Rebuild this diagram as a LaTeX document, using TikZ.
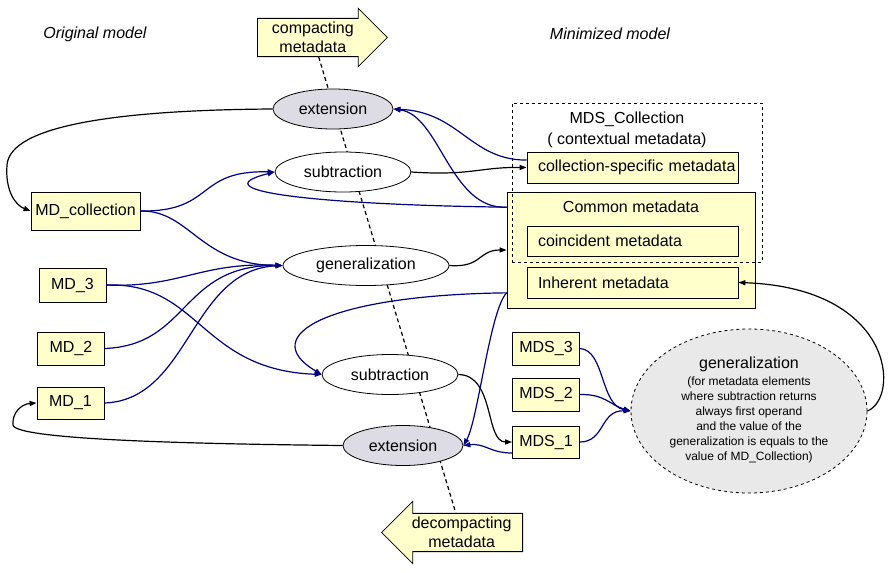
\documentclass[tikz,border=0pt]{standalone}
\usepackage{fontspec}
\setmainfont{Liberation Sans}
\usepackage{tikz}
\usetikzlibrary{shapes.geometric, shapes.arrows, arrows.meta, backgrounds}
\usepackage{xcolor}
\definecolor{mdyellow}{RGB}{255,255,204}
\definecolor{opgray}{RGB}{221,219,228}
\definecolor{gengray}{RGB}{233,233,233}
\definecolor{mdnavy}{RGB}{0,0,128}

\begin{document}
\begin{tikzpicture}[x=1pt, y=-1pt, >={Stealth[inset=0pt,length=7pt,angle'=40]},
                    font=\fontsize{16}{19}\selectfont,
                    mdbox/.style={draw, fill=mdyellow, line width=0.8pt, inner sep=0pt, minimum width=67pt, minimum height=33pt},
                    inbox/.style={draw, fill=mdyellow, line width=0.8pt, minimum width=211pt, minimum height=31pt, text width=189pt, inner xsep=11pt, inner ysep=0pt, align=left},
                    op/.style={draw, ellipse, fill=white, line width=0.8pt, inner sep=0pt, minimum height=40pt},
                    flow/.style={single arrow, draw, fill=mdyellow, line width=0.8pt, align=center, single arrow head extend=10pt},
                    axis/.style={line width=1.2pt, dash pattern=on 4pt off 3pt},
                    blk/.style={->, line width=1.2pt},
                    blu/.style={->, draw=mdnavy, line width=1.2pt}]

    \useasboundingbox (0,0) rectangle (889,573);

    \node[font=\fontsize{16}{19}\selectfont\itshape] (orig) at (95,34) {Original model};
    \node[font=\fontsize{16}{19}\selectfont\itshape] (mini) at (610,34) {Minimized model};

    \node[flow, anchor=tail, minimum height=130pt] (cmp) at (257,37.5) {compacting\\metadata};
    \node[flow, shape border rotate=180, anchor=tail, minimum height=141pt,
          single arrow head extend=12pt] (dcmp) at (523,532.5) {decompacting\\metadata};

    \node[op, fill=opgray, minimum width=120pt] (ext1) at (333,109) {extension};
    \node[op, minimum width=136pt] (sub1) at (343,172) {subtraction};
    \node[op, minimum width=166pt] (gen1) at (366,265.5) {generalization};
    \node[op, minimum width=136pt] (sub2) at (390,374.5) {subtraction};
    \node[op, fill=opgray, minimum width=120pt] (ext2) at (403,445.5) {extension};

    \node[mdbox, minimum width=109pt, minimum height=38pt] (mdc) at (85.5,211) {MD\_collection};
    \node[mdbox, minimum height=34pt] (md3) at (72.5,285) {MD\_3};
    \node[mdbox] (md2) at (71,348.5) {MD\_2};
    \node[mdbox, minimum height=32pt] (md1) at (70.5,403) {MD\_1};

    \node[mdbox] (mds3) at (546,348.5) {MDS\_3};
    \node[mdbox] (mds2) at (546,394.5) {MDS\_2};
    \node[mdbox, minimum height=32pt] (mds1) at (546,442) {MDS\_1};

    % minimized metadata
    \node[draw, fill=mdyellow, line width=0.8pt, minimum width=248pt, minimum height=116pt] (comm) at (631,250) {};
    \node (commtitle) at (631,207) {Common metadata};
    \node[inbox] (csp) at (632.5,167.5) {\mbox{collection-specific metadata}};
    \node[inbox, minimum height=30pt] (coin) at (632.5,241) {coincident metadata};
    \node[inbox] (inh) at (632.5,282.5) {Inherent metadata};
    \node[draw, dashed, line width=0.8pt, minimum width=250pt, minimum height=159pt] (colbox) at (637,182.5) {};
    \node[align=center] (coltitle) at (627,129.5) {MDS\_Collection\\[2pt]( contextual metadata)};

    \node[draw, dashed, ellipse, fill=gengray, line width=0.8pt, minimum width=236pt, minimum height=164pt,
          inner sep=0pt, align=center] (gen2) at (749,411)
          {generalization\\[-2pt]{\fontsize{12}{15}\selectfont\begin{tabular}[t]{@{}c@{}}(for metadata elements\\
           where subtraction returns\\ always first operand\\ and the value of the\\
           generalization is equals to the\\ value of MD\_Collection)\end{tabular}}};

    \begin{scope}[on background layer]
        \draw[axis] (cmp) -- (dcmp);
    \end{scope}

    % black connectors
    \draw[blk] (ext1.west) .. controls (120,110) and (10,125) .. (7,165) .. controls (5,190) and (15,205) .. (mdc.west);
    \draw[blk] (sub1.east) .. controls (470,176) and (480,167) .. (csp.west);
    \draw[blk] (gen1.east) .. controls (482,268) and (478,250) .. (comm.west);
    \draw[blk] (sub2.east) .. controls (495,375) and (485,442) .. (mds1.west);
    \draw[blk] (gen2.east) .. controls (900,398) and (895,288) .. (inh.east);
    \draw[blk] (ext2.west) .. controls (200,444) and (15,440) .. (13,425) .. controls (12,412) and (22,404) .. (md1.west);

    % blue connectors
    \draw[blu] (csp.176) .. controls (470,160) and (460,112) .. (ext1.east);
    \draw[blu] (comm.161) .. controls (450,210) and (440,115) .. (ext1.east);
    \draw[blu] (comm.161) .. controls (330,205) and (195,192) .. (sub1.west);
    \draw[blu] (mdc.east) .. controls (215,212) and (195,170) .. (sub1.west);
    \draw[blu] (mdc.east) .. controls (190,210) and (200,265) .. (gen1.west);
    \draw[blu] (md3.east) .. controls (180,288) and (200,262) .. (gen1.west);
    \draw[blu] (md3.east) .. controls (200,282) and (200,370) .. (sub2.west);
    \draw[blu] (md2.east) .. controls (190,345) and (180,265) .. (gen1.west);
    \draw[blu] (md1.east) .. controls (190,400) and (190,270) .. (gen1.west);
    \draw[blu] (comm.199) .. controls (330,295) and (255,335) .. (sub2.west);
    \draw[blu] (comm.199) .. controls (490,310) and (478,420) .. (ext2.east);
    \draw[blu] (mds1.198) .. controls (490,453) and (485,443) .. (ext2.east);
    \draw[blu] (mds3.east) .. controls (605,350) and (600,405) .. (gen2.west);
    \draw[blu] (mds2.east) .. controls (605,394) and (610,405) .. (gen2.west);
    \draw[blu] (mds1.east) .. controls (605,442) and (600,410) .. (gen2.west);
\end{tikzpicture}
\end{document}
